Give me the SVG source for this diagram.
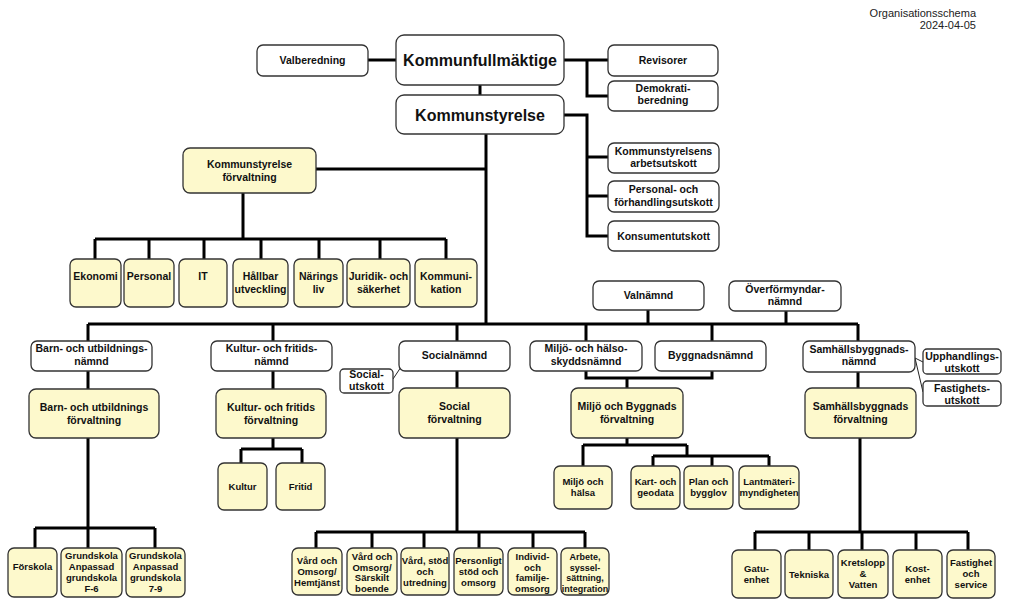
<svg xmlns="http://www.w3.org/2000/svg" width="1010" height="611" viewBox="0 0 1010 611">
<style>
.n{fill:#fff;stroke:#333;stroke-width:1.3}
.y{fill:#fdf9cc;stroke:#333;stroke-width:1.3}
.c{fill:none;stroke:#000;stroke-width:3;stroke-linejoin:miter}
.thin{fill:none;stroke:#222;stroke-width:1}
text{font-family:"Liberation Sans",Arial,sans-serif;font-weight:bold;text-anchor:middle;fill:#111;font-size:10.5px}
.s{font-size:9.5px}
.big{font-size:16px}
.hdr{font-weight:normal;text-anchor:end;font-size:11px;fill:#222}
</style>
<rect width="1010" height="611" fill="#fff"/>
<text class="hdr" x="976" y="17">Organisationsschema</text>
<text class="hdr" x="976" y="29">2024-04-05</text>

<g id="connectors">
<path class="c" d="M368,60H396"/>
<path class="c" d="M480,85V95"/>
<path class="c" d="M564,60H608M587,60V96H608"/>
<path class="c" d="M564,115H587V236H608M587,157H608M587,196H608"/>
<path class="c" d="M486,134V324"/>
<path class="c" d="M316,169H486"/>
<path class="c" d="M243,193V239M95,239H446M95,239V259M149,239V259M204,239V259M261,239V259M319,239V259M380,239V259M446,239V259"/>
<path class="c" d="M88,324H858M88,324V341M273,324V341M457,324V341M586,324V341M712,324V341M858,324V341M648,310V324M786,311V324"/>
<path class="c" d="M88,371V389M88,438V528M35,528H155M35,528V548M88,528V548M155,528V548"/>
<path class="c" d="M273,371V389M273,438V449M241,449H302M241,449V463M302,449V463"/>
<path class="c" d="M457,371V388M457,438V532M316,532H585M316,532V548M372,532V548M424,532V548M479,532V548M533,532V548M585,532V548"/>
<path class="thin" d="M393,379L401,367"/>
<path class="c" d="M586,371V378H712V371M627,378V388M627,438V445M583,445H687M583,445V466M687,445V456M653,456H769M653,456V466M712,456V466M769,456V466"/>
<path class="c" d="M858,372V388M860,438V532M755,532H968M755,532V550M809,532V550M862,532V550M916,532V550M968,532V550"/>
<path class="thin" d="M915,358L923,362M915,358L923,392"/>
</g>

<g id="valberedning"><rect class="n" x="257" y="45" width="111" height="31" rx="6"/><text x="312.5" y="64">Valberedning</text></g>
<g id="kommunfullmaktige"><rect class="n" x="396" y="35" width="168" height="50" rx="8"/><text class="big" x="480" y="66">Kommunfullmäktige</text></g>
<g id="revisorer"><rect class="n" x="608" y="45" width="110" height="31" rx="6"/><text x="663" y="64">Revisorer</text></g>
<g id="demokratiberedning"><rect class="n" x="608" y="81" width="110" height="30" rx="6"/><text x="663" y="92">Demokrati-</text><text x="663" y="104">beredning</text></g>
<g id="kommunstyrelse"><rect class="n" x="396" y="95" width="168" height="39" rx="8"/><text class="big" x="480" y="121">Kommunstyrelse</text></g>
<g id="ks-arbetsutskott"><rect class="n" x="608" y="143" width="111" height="30" rx="6"/><text x="663.5" y="155">Kommunstyrelsens</text><text x="663.5" y="167">arbetsutskott</text></g>
<g id="personalutskott"><rect class="n" x="608" y="181" width="111" height="31" rx="6"/><text x="663.5" y="193">Personal- och</text><text x="663.5" y="206">förhandlingsutskott</text></g>
<g id="konsumentutskott"><rect class="n" x="608" y="221" width="111" height="30" rx="6"/><text x="663.5" y="240">Konsumentutskott</text></g>

<g id="ks-forvaltning"><rect class="y" x="183" y="148" width="133" height="45" rx="7"/><text x="249.5" y="168">Kommunstyrelse</text><text x="249.5" y="181">förvaltning</text></g>
<g id="ekonomi"><rect class="y" x="70" y="259" width="51" height="48" rx="6"/><text x="95.5" y="280">Ekonomi</text></g>
<g id="personal"><rect class="y" x="124" y="259" width="50" height="48" rx="6"/><text x="149" y="280">Personal</text></g>
<g id="it"><rect class="y" x="179" y="259" width="48" height="48" rx="6"/><text x="203" y="280">IT</text></g>
<g id="hallbar"><rect class="y" x="233" y="259" width="55" height="48" rx="6"/><text x="260.5" y="280">Hållbar</text><text x="260.5" y="293">utveckling</text></g>
<g id="naringsliv"><rect class="y" x="294" y="259" width="49" height="48" rx="6"/><text x="318.5" y="280">Närings</text><text x="318.5" y="293">liv</text></g>
<g id="juridik"><rect class="y" x="347" y="259" width="63" height="48" rx="6"/><text x="378.5" y="280">Juridik- och</text><text x="378.5" y="293">säkerhet</text></g>
<g id="kommunikation"><rect class="y" x="415" y="259" width="62" height="48" rx="6"/><text x="446" y="280">Kommuni-</text><text x="446" y="293">kation</text></g>

<g id="valnamnd"><rect class="n" x="593" y="281" width="111" height="29" rx="6"/><text x="648.5" y="299">Valnämnd</text></g>
<g id="overformyndarnamnd"><rect class="n" x="729" y="281" width="112" height="30" rx="6"/><text x="785" y="293">Överförmyndar-</text><text x="785" y="305">nämnd</text></g>

<g id="bu-namnd"><rect class="n" x="31" y="341" width="121" height="30" rx="6"/><text x="91.5" y="352">Barn- och utbildnings-</text><text x="91.5" y="365">nämnd</text></g>
<g id="bu-forvaltning"><rect class="y" x="29" y="389" width="130" height="49" rx="7"/><text x="94" y="411">Barn- och utbildnings</text><text x="94" y="424">förvaltning</text></g>
<g id="forskola"><rect class="y" x="8" y="548" width="49" height="49" rx="6"/><text class="s" x="32.5" y="570">Förskola</text></g>
<g id="grundskola-f6"><rect class="y" x="61" y="548" width="61" height="49" rx="6"/><text class="s" x="91.5" y="559">Grundskola</text><text class="s" x="91.5" y="570">Anpassad</text><text class="s" x="91.5" y="581">grundskola</text><text class="s" x="91.5" y="592">F-6</text></g>
<g id="grundskola-79"><rect class="y" x="126" y="548" width="59" height="49" rx="6"/><text class="s" x="155.5" y="559">Grundskola</text><text class="s" x="155.5" y="570">Anpassad</text><text class="s" x="155.5" y="581">grundskola</text><text class="s" x="155.5" y="592">7-9</text></g>

<g id="kf-namnd"><rect class="n" x="211" y="341" width="121" height="30" rx="6"/><text x="271.5" y="352">Kultur- och fritids-</text><text x="271.5" y="365">nämnd</text></g>
<g id="kf-forvaltning"><rect class="y" x="216" y="389" width="110" height="49" rx="7"/><text x="271" y="411">Kultur- och fritids</text><text x="271" y="424">förvaltning</text></g>
<g id="kultur"><rect class="y" x="218" y="463" width="49" height="47" rx="6"/><text class="s" x="242.5" y="490">Kultur</text></g>
<g id="fritid"><rect class="y" x="276" y="463" width="49" height="47" rx="6"/><text class="s" x="300.5" y="490">Fritid</text></g>

<g id="socialnamnd"><rect class="n" x="399" y="341" width="111" height="30" rx="6"/><text x="454.5" y="359">Socialnämnd</text></g>
<g id="socialutskott"><rect class="n" x="340" y="369" width="53" height="24" rx="4"/><text x="366.5" y="378">Social-</text><text x="366.5" y="390">utskott</text></g>
<g id="social-forvaltning"><rect class="y" x="399" y="388" width="111" height="50" rx="7"/><text x="454.5" y="410">Social</text><text x="454.5" y="423">förvaltning</text></g>
<g id="hemtjanst"><rect class="y" x="292" y="548" width="50" height="47" rx="6"/><text class="s" x="317" y="564">Vård och</text><text class="s" x="317" y="575">Omsorg/</text><text class="s" x="317" y="586">Hemtjänst</text></g>
<g id="sarskilt-boende"><rect class="y" x="347" y="548" width="50" height="47" rx="6"/><text class="s" x="372" y="560">Vård och</text><text class="s" x="372" y="570.5">Omsorg/</text><text class="s" x="372" y="581">Särskilt</text><text class="s" x="372" y="591.5">boende</text></g>
<g id="vard-stod"><rect class="y" x="401" y="548" width="48" height="47" rx="6"/><text class="s" x="425" y="564">Vård, stöd</text><text class="s" x="425" y="575">och</text><text class="s" x="425" y="586">utredning</text></g>
<g id="personligt-stod"><rect class="y" x="454" y="548" width="49" height="47" rx="6"/><text class="s" x="478.5" y="564">Personligt</text><text class="s" x="478.5" y="575">stöd och</text><text class="s" x="478.5" y="586">omsorg</text></g>
<g id="ifo"><rect class="y" x="508" y="548" width="49" height="47" rx="6"/><text class="s" x="532.5" y="560">Individ-</text><text class="s" x="532.5" y="570.5">och</text><text class="s" x="532.5" y="581">familje-</text><text class="s" x="532.5" y="591.5">omsorg</text></g>
<g id="arbete"><rect class="y" x="561" y="548" width="48" height="47" rx="6"/><text class="s" x="585" y="560" style="font-size:9px">Arbete,</text><text class="s" x="585" y="570.5" style="font-size:9px">syssel-</text><text class="s" x="585" y="581" style="font-size:9px">sättning,</text><text class="s" x="585" y="591.5" style="font-size:9px">integration</text></g>

<g id="miljo-namnd"><rect class="n" x="530" y="341" width="112" height="30" rx="6"/><text x="586" y="352">Miljö- och hälso-</text><text x="586" y="365">skyddsnämnd</text></g>
<g id="byggnadsnamnd"><rect class="n" x="655" y="341" width="111" height="30" rx="6"/><text x="710.5" y="359">Byggnadsnämnd</text></g>
<g id="mb-forvaltning"><rect class="y" x="571" y="388" width="112" height="50" rx="7"/><text x="627" y="410">Miljö och Byggnads</text><text x="627" y="423">förvaltning</text></g>
<g id="miljo-halsa"><rect class="y" x="554" y="466" width="58" height="43" rx="6"/><text class="s" x="583" y="485">Miljö och</text><text class="s" x="583" y="496">hälsa</text></g>
<g id="kart-geodata"><rect class="y" x="631" y="466" width="49" height="43" rx="6"/><text class="s" x="655.5" y="485">Kart- och</text><text class="s" x="655.5" y="496">geodata</text></g>
<g id="plan-bygglov"><rect class="y" x="684" y="466" width="49" height="43" rx="6"/><text class="s" x="708.5" y="485">Plan och</text><text class="s" x="708.5" y="496">bygglov</text></g>
<g id="lantmateri"><rect class="y" x="739" y="466" width="60" height="43" rx="6"/><text class="s" x="769" y="485">Lantmäteri-</text><text class="s" x="769" y="496">myndigheten</text></g>

<g id="sb-namnd"><rect class="n" x="803" y="341" width="112" height="31" rx="6"/><text x="859" y="353">Samhällsbyggnads-</text><text x="859" y="365">nämnd</text></g>
<g id="upphandlingsutskott"><rect class="n" x="923" y="349" width="78" height="25" rx="4"/><text x="962" y="360">Upphandlings-</text><text x="962" y="372">utskott</text></g>
<g id="fastighetsutskott"><rect class="n" x="923" y="381" width="78" height="25" rx="4"/><text x="962" y="392">Fastighets-</text><text x="962" y="404">utskott</text></g>
<g id="sb-forvaltning"><rect class="y" x="805" y="388" width="111" height="50" rx="7"/><text x="860.5" y="410">Samhällsbyggnads</text><text x="860.5" y="423">förvaltning</text></g>
<g id="gatuenhet"><rect class="y" x="732" y="550" width="49" height="48" rx="6"/><text class="s" x="756.5" y="572">Gatu-</text><text class="s" x="756.5" y="583">enhet</text></g>
<g id="tekniska"><rect class="y" x="785" y="550" width="48" height="48" rx="6"/><text class="s" x="809" y="578">Tekniska</text></g>
<g id="kretslopp"><rect class="y" x="838" y="550" width="50" height="48" rx="6"/><text class="s" x="863" y="566">Kretslopp</text><text class="s" x="863" y="577">&amp;</text><text class="s" x="863" y="588">Vatten</text></g>
<g id="kostenhet"><rect class="y" x="893" y="550" width="49" height="48" rx="6"/><text class="s" x="917.5" y="572">Kost-</text><text class="s" x="917.5" y="583">enhet</text></g>
<g id="fastighet-service"><rect class="y" x="947" y="550" width="48" height="48" rx="6"/><text class="s" x="971" y="566">Fastighet</text><text class="s" x="971" y="577">och</text><text class="s" x="971" y="588">service</text></g>
</svg>
